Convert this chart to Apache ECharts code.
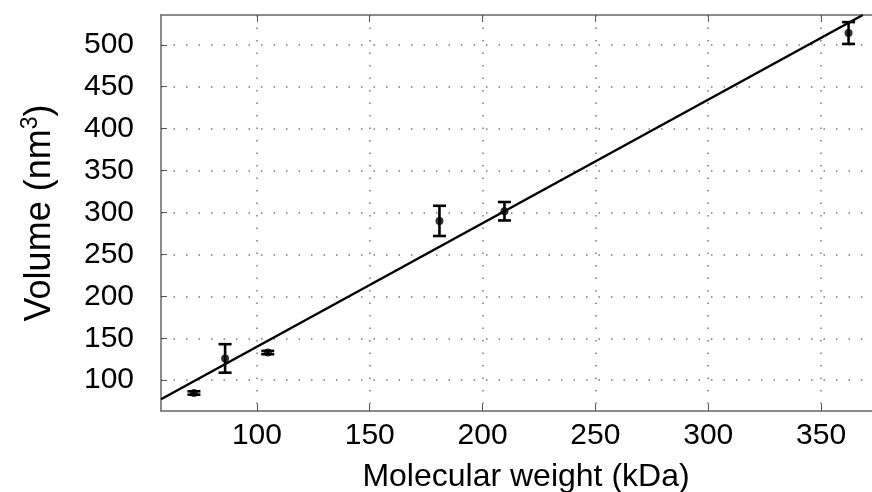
<!DOCTYPE html>
<html><head><meta charset="utf-8">
<script src="https://cdn.jsdelivr.net/npm/echarts@6/dist/echarts.min.js"></script>
<style>html,body{margin:0;padding:0;background:#fff}#c{width:872px;height:492px}</style>
</head><body><div id="c"></div>
<script>
// Data
const weights = [72.1, 85.9, 104.8, 180.9, 209.7, 362.2];
const volumes = [84.8, 126, 133, 290, 301.5, 514];
const errors  = [2, 17, 2, 18, 11, 13];
const fitLine = [[57.5, 77.3], [368.5, 535.5]];
const xTicks = [100, 150, 200, 250, 300, 350];
const yTicks = [100, 150, 200, 250, 300, 350, 400, 450, 500];

const FONT = 'Liberation Sans, Arial, sans-serif';
const axisLineStyle = { color: '#666', width: 1.5 };
const tickStyle = { color: '#555', width: 1 };
const gridStyle = { type: [1.5, 11], color: '#777', width: 1.5 };

const chart = echarts.init(document.getElementById('c'), null, { renderer: 'canvas' });
chart.setOption({
  animation: false,
  backgroundColor: '#fff',
  grid: { left: 161, right: -19, top: 15, bottom: 81, containLabel: false, outerBoundsMode: 'none' },
  xAxis: [{
    type: 'value', min: 57.5, max: 381, position: 'bottom',
    axisLine: { show: true, onZero: false, lineStyle: axisLineStyle },
    axisTick: { show: true, inside: true, length: 7, customValues: xTicks, lineStyle: tickStyle },
    axisLabel: { customValues: xTicks, fontSize: 30, color: '#000', margin: 10, fontFamily: FONT },
    splitLine: { show: true, lineStyle: gridStyle },
    name: 'Molecular weight (kDa)', nameLocation: 'middle', nameGap: 50,
    nameTextStyle: { fontSize: 32, color: '#000', fontFamily: FONT }
  }, {
    type: 'value', min: 57.5, max: 381, position: 'top',
    axisLine: { show: true, onZero: false, lineStyle: axisLineStyle },
    axisTick: { show: true, inside: true, length: 7, customValues: xTicks, lineStyle: tickStyle },
    axisLabel: { show: false },
    splitLine: { show: false }
  }],
  yAxis: [{
    type: 'value', min: 63.3, max: 535.5, position: 'left',
    axisLine: { show: true, onZero: false, lineStyle: axisLineStyle },
    axisTick: { show: true, inside: true, length: 6, customValues: yTicks, lineStyle: tickStyle },
    axisLabel: { customValues: yTicks, fontSize: 30, color: '#000', margin: 27, fontFamily: FONT },
    splitLine: { show: true, lineStyle: gridStyle },
    name: '{a|Volume (nm}{s|3}{a|)}', nameLocation: 'middle', nameGap: 100,
    nameTextStyle: {
      fontFamily: FONT, color: '#000',
      rich: {
        a: { fontSize: 36, fontFamily: FONT, color: '#000', lineHeight: 42 },
        s: { fontSize: 23, fontFamily: FONT, color: '#000', verticalAlign: 'top', lineHeight: 42, padding: [0, 0, 15, 0] }
      }
    }
  }],
  series: [{
    type: 'line', data: fitLine, showSymbol: false, symbol: 'none', clip: true,
    lineStyle: { color: '#000', width: 2.5 }, z: 2
  }, {
    type: 'custom', z: 3,
    data: weights.map((w, i) => [w, volumes[i], errors[i]]),
    renderItem: function (params, api) {
      const x = api.value(0), y = api.value(1), e = api.value(2);
      const t = api.coord([x, y + e]);
      const b = api.coord([x, y - e]);
      const hw = 6.5;
      const st = { stroke: '#000', lineWidth: 2.6 };
      return {
        type: 'group', children: [
          { type: 'line', shape: { x1: t[0], y1: t[1], x2: b[0], y2: b[1] }, style: st },
          { type: 'line', shape: { x1: t[0] - hw, y1: t[1], x2: t[0] + hw, y2: t[1] }, style: st },
          { type: 'line', shape: { x1: b[0] - hw, y1: b[1], x2: b[0] + hw, y2: b[1] }, style: st }
        ]
      };
    }
  }, {
    type: 'scatter', z: 4,
    data: weights.map((w, i) => [w, volumes[i]]),
    symbol: 'circle', symbolSize: 8,
    itemStyle: { color: '#000' }
  }]
});
</script>
</body></html>
